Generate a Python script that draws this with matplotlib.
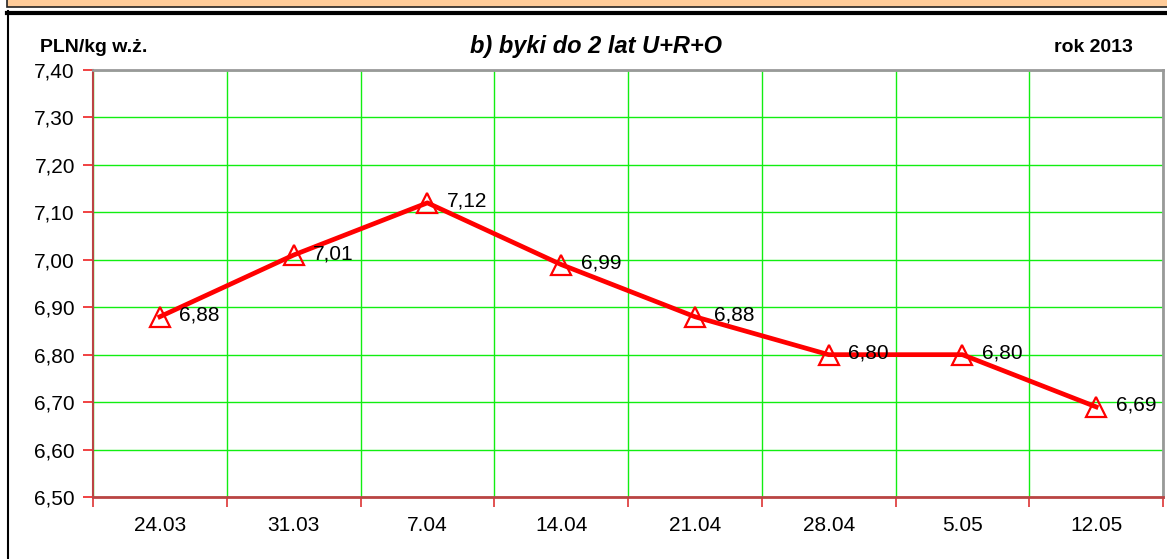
import matplotlib
matplotlib.use("Agg")
import matplotlib.pyplot as plt
from matplotlib.patches import Rectangle
from matplotlib.lines import Line2D
from matplotlib.ticker import FixedLocator

categories = ["24.03", "31.03", "7.04", "14.04", "21.04", "28.04", "5.05", "12.05"]
values = [6.88, 7.01, 7.12, 6.99, 6.88, 6.80, 6.80, 6.69]
value_labels = ["6,88", "7,01", "7,12", "6,99", "6,88", "6,80", "6,80", "6,69"]
y_ticks = [6.50, 6.60, 6.70, 6.80, 6.90, 7.00, 7.10, 7.20, 7.30, 7.40]
y_tick_labels = ["6,50", "6,60", "6,70", "6,80", "6,90", "7,00", "7,10", "7,20", "7,30", "7,40"]

plt.rcParams['font.family'] = ['Liberation Sans', 'DejaVu Sans']

W, H = 1167, 559
fig = plt.figure(figsize=(W / 100, H / 100), dpi=100)
fig.patch.set_facecolor("white")

def fx(px):
    return px / W

def fy(py):
    return 1 - py / H

# top orange band
fig.patches.append(Rectangle((fx(7), fy(7)), 1 - fx(7) + 0.01, 7 / H + 0.01,
                             transform=fig.transFigure, facecolor="#FFCC99",
                             edgecolor="#222222", linewidth=1.2, zorder=0))
# thick black line and left frame line
fig.lines.append(Line2D([fx(7), 1.0], [fy(12.5), fy(12.5)], transform=fig.transFigure,
                        color="black", linewidth=3.0))
fig.lines.append(Line2D([fx(8), fx(8)], [fy(11), 0], transform=fig.transFigure,
                        color="black", linewidth=1.5))

ax = fig.add_axes([fx(93), fy(497), fx(1163) - fx(93), fy(70) - fy(497)])
x = list(range(len(categories)))
ax.set_xlim(-0.5, len(categories) - 0.5)
ax.set_ylim(6.50, 7.40)

# grid
ax.yaxis.set_major_locator(FixedLocator(y_ticks))
ax.set_yticklabels(y_tick_labels)
ax.xaxis.set_major_locator(FixedLocator(x))
ax.set_xticklabels(categories)
bounds = [i - 0.5 for i in range(len(categories) + 1)]
ax.xaxis.set_minor_locator(FixedLocator(bounds))
ax.grid(True, which="major", axis="y", color="#11EE11", linewidth=1.0)
ax.grid(True, which="minor", axis="x", color="#11EE11", linewidth=1.0)
ax.set_axisbelow(True)

ax.tick_params(axis="x", which="major", length=0, pad=14, labelsize=15)
ax.tick_params(axis="x", which="minor", length=7, color="#DD3333", width=1.2)
ax.tick_params(axis="y", which="major", length=7, color="#EE2222", width=1.2,
               pad=6, labelsize=15)

for s in ["top", "right"]:
    ax.spines[s].set_color("#999999")
    ax.spines[s].set_linewidth(2)
ax.spines["bottom"].set_color("#BB4444")
ax.spines["bottom"].set_linewidth(2)
ax.spines["left"].set_color("#BB4444")
ax.spines["left"].set_linewidth(1.5)

ax.plot(x, values, color="#FF0000", linewidth=3.4, marker="^", markersize=14,
        markerfacecolor="none", markeredgecolor="#FF0000", markeredgewidth=1.6,
        zorder=5, clip_on=False)

for xi, v, lab in zip(x, values, value_labels):
    ax.annotate(lab, (xi, v), xytext=(14, 1), textcoords="offset points",
                ha="left", va="center", fontsize=15, color="black", zorder=6)

fig.text(fx(40), fy(47), "PLN/kg w.ż.", fontsize=14, fontweight="bold",
         ha="left", va="center")
fig.text(fx(596), fy(46), "b) byki do 2 lat U+R+O", fontsize=17, fontweight="bold",
         fontstyle="italic", ha="center", va="center")
fig.text(fx(1133), fy(47), "rok 2013", fontsize=14, fontweight="bold",
         ha="right", va="center")

fig.savefig("out.png", dpi=100)
